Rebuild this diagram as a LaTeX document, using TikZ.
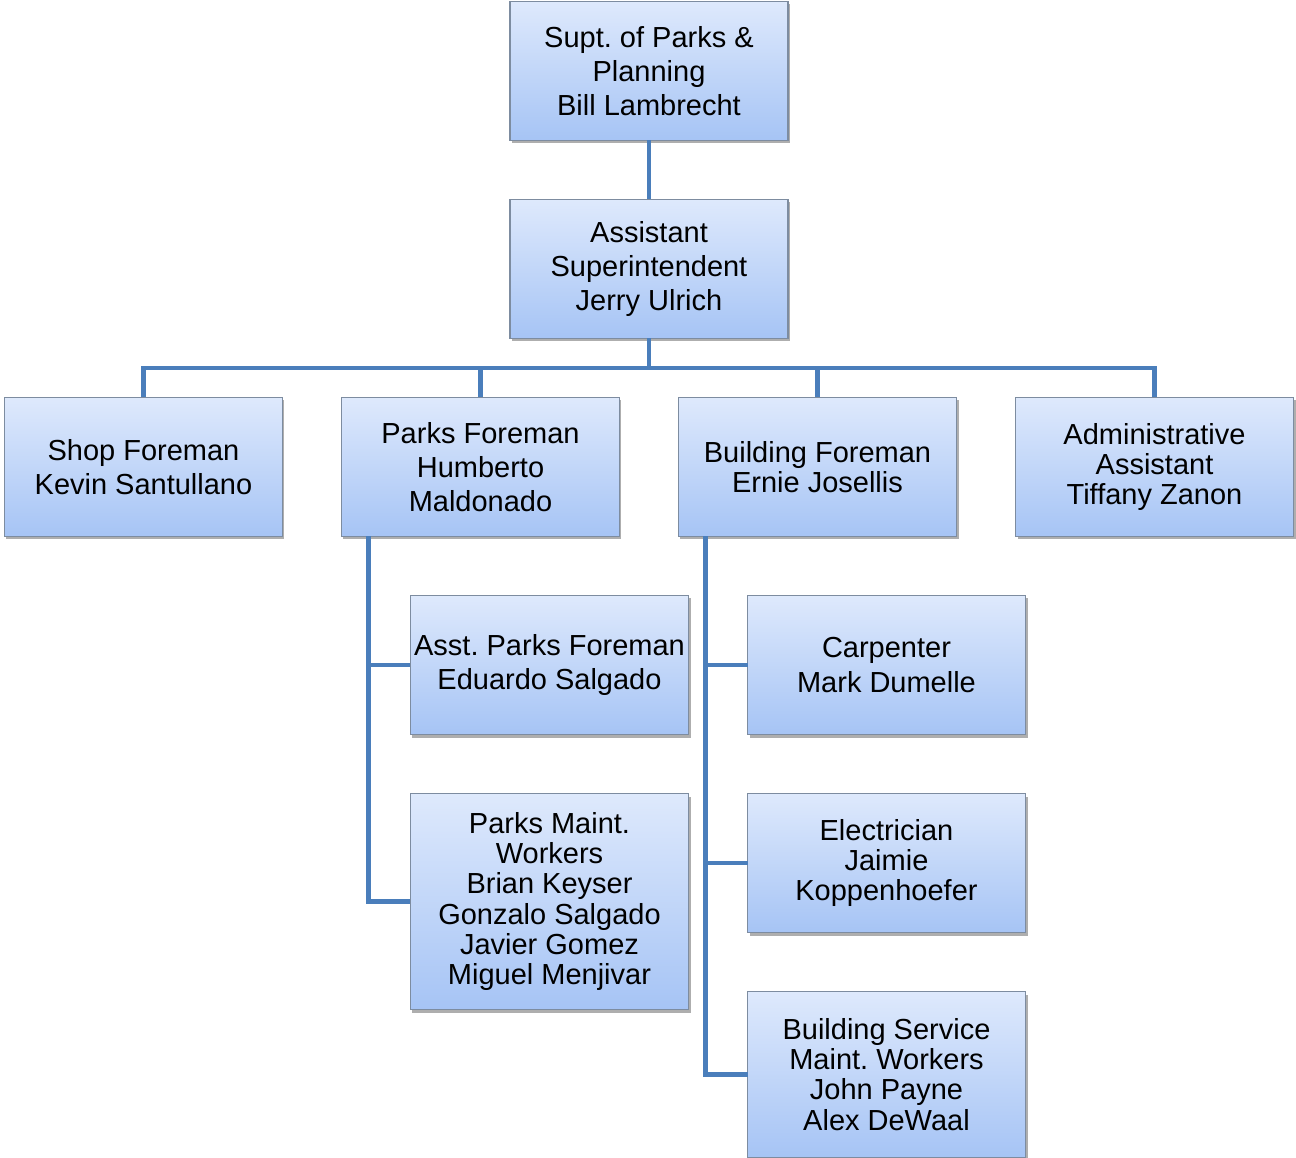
\documentclass[tikz,border=0pt]{standalone}
\usepackage{fontspec}
\setmainfont{Liberation Sans}
\frenchspacing
\usetikzlibrary{positioning, shadows}

\definecolor{linkblue}{RGB}{74,126,187}
\definecolor{boxtop}{RGB}{222,233,252}
\definecolor{boxbottom}{RGB}{166,196,245}
\definecolor{boxedge}{RGB}{125,140,160}

\begin{document}
\begin{tikzpicture}[
  box/.style={draw=boxedge, line width=0.6pt, top color=boxtop, bottom color=boxbottom,
    minimum width=5.56cm, minimum height=2.78cm, align=center, inner sep=1pt, outer sep=0pt,
    font=\fontsize{16.5}{19.4}\selectfont,
    drop shadow={shadow xshift=0.04cm, shadow yshift=-0.06cm, opacity=0.45, fill=black!70}},
  tight/.style={font=\fontsize{16.5}{17.2}\selectfont},
  link/.style={draw=linkblue, line width=2.8pt},
  node distance=1.18cm and 1.18cm
]
\useasboundingbox (-12.98,1.42) rectangle (12.94,-21.74);

% Top levels
\node[box] (supt) at (0,0) {Supt. of Parks \&\\Planning\\Bill Lambrecht};
\node[box, below=of supt] (asst) {Assistant\\Superintendent\\Jerry Ulrich};

% Foremen row
\node[box, below left=1.18cm and 0.59cm of asst.south] (parks) {Parks Foreman\\Humberto\\Maldonado};
\node[box, tight, below right=1.18cm and 0.59cm of asst.south] (building) {Building Foreman\\Ernie Josellis};
\node[box, left=of parks] (shop) {Shop Foreman\\Kevin Santullano};
\node[box, tight, right=of building] (admin) {Administrative\\Assistant\\Tiffany Zanon};

% Parks staff
\node[box, below=of parks, xshift=1.38cm] (asstparks) {Asst. Parks Foreman\\Eduardo Salgado};
\node[box, tight, below=of asstparks, minimum height=4.32cm] (maint) {Parks Maint.\\Workers\\Brian Keyser\\Gonzalo Salgado\\Javier Gomez\\Miguel Menjivar};

% Building staff
\node[box, below=of building, xshift=1.38cm] (carpenter) {Carpenter\\Mark Dumelle};
\node[box, tight, below=of carpenter] (electrician) {Electrician\\Jaimie\\Koppenhoefer};
\node[box, tight, below=of electrician, minimum height=3.32cm] (bsmw) {Building Service\\Maint. Workers\\John Payne\\Alex DeWaal};

% Connectors
\draw[link] (supt.south) -- (asst.north);
\draw[link] (asst.south) -- ++(0,-0.59) coordinate (bus);
\foreach \n in {shop,parks,building,admin}
  \draw[link] (bus) -| (\n.north);
\foreach \n in {asstparks,maint}
  \draw[link] ([xshift=0.54cm]parks.south west) |- (\n.west);
\foreach \n in {carpenter,electrician,bsmw}
  \draw[link] ([xshift=0.54cm]building.south west) |- (\n.west);

\end{tikzpicture}
\end{document}
